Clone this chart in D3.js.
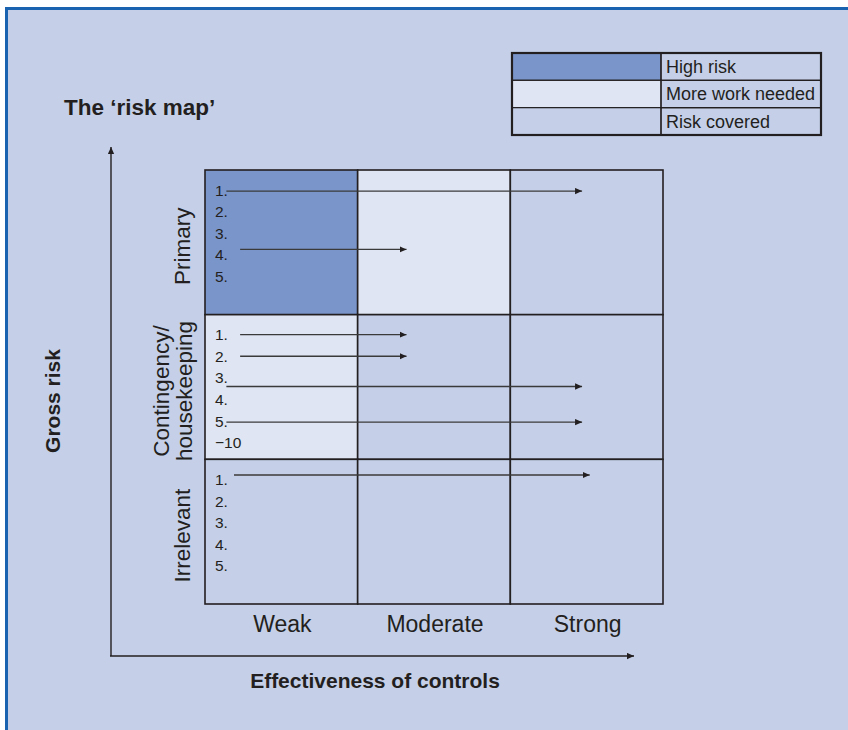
<!DOCTYPE html>
<html>
<head>
<meta charset="utf-8">
<style>
    body { margin: 0; background: #fff; }
    svg { display: block; }
    text { font-family: "Liberation Sans", Arial, sans-serif; fill: #231f20; }
</style>
</head>
<body>
<script src="https://d3js.org/d3.v7.min.js"></script>
<script>

    // controls effectiveness (columns) and gross risk (rows)
    var controls = ["Weak", "Moderate", "Strong"];
    var riskRows = [["Primary"], ["Contingency/", "housekeeping"], ["Irrelevant"]];

    // status of each cell, row by row
    var cellStatus = [
        ["high", "more", "covered"],
        ["more", "covered", "covered"],
        ["covered", "covered", "covered"]
    ];

    var legendKeys = ["high", "more", "covered"];
    var legendLabels = ["High risk", "More work needed", "Risk covered"];
    var statusColors = ["#7a95ca", "#dfe5f2", "#c5d0e8"];

    // risk items listed in each row
    var rowItems = [
        ["1.", "2.", "3.", "4.", "5."],
        ["1.", "2.", "3.", "4.", "5.", "\u221210"],
        ["1.", "2.", "3.", "4.", "5."]
    ];

    // movement arrows: row, position in item list, start and end on the controls scale (0-3)
    var arrows = [
        { row: 0, pos: 0.05, from: 0.14, to: 2.47 },
        { row: 0, pos: 2.75, from: 0.23, to: 1.32 },
        { row: 1, pos: 0.0, from: 0.23, to: 1.32 },
        { row: 1, pos: 1.0, from: 0.23, to: 1.32 },
        { row: 1, pos: 2.4, from: 0.14, to: 2.47 },
        { row: 1, pos: 4.05, from: 0.14, to: 2.47 },
        { row: 2, pos: -0.2, from: 0.19, to: 2.52 }
    ];

    var width = 848, height = 730;

    var svg = d3.select("body").append("svg")
        .attr("width", width)
        .attr("height", height);

    svg.append("defs").append("marker")
        .attr("id", "arrowhead")
        .attr("viewBox", "0 -5 10 10")
        .attr("refX", 10)
        .attr("refY", 0)
        .attr("markerWidth", 7)
        .attr("markerHeight", 7)
        .attr("markerUnits", "userSpaceOnUse")
        .attr("orient", "auto")
        .append("path")
        .attr("d", "M0,-4.5L10,0L0,4.5Z")
        .attr("fill", "#231f20");

    // panel
    svg.append("rect")
        .attr("x", 6.5).attr("y", 8.5)
        .attr("width", width + 10).attr("height", height + 10)
        .attr("fill", "#c5d0e8")
        .attr("stroke", "#1a63b0")
        .attr("stroke-width", 3);

    var x = d3.scaleLinear().domain([0, 3]).range([205, 663]);
    var y = d3.scaleBand().domain(d3.range(3)).range([170, 604]);
    var col = d3.scaleBand().domain(d3.range(3)).range([205, 663]);
    var color = d3.scaleOrdinal().domain(legendKeys).range(statusColors);

    // item rows inside a band
    var itemY = function(row, pos) { return y(row) + 20 + pos * 21.6; };

    var grid = svg.append("g");

    cellStatus.forEach(function(r, i) {
        grid.selectAll(null)
            .data(r)
            .enter().append("rect")
            .attr("x", function(d, j) { return col(j); })
            .attr("y", y(i))
            .attr("width", col.bandwidth())
            .attr("height", y.bandwidth())
            .attr("fill", function(d) { return color(d); })
            .attr("stroke", "#231f20")
            .attr("stroke-width", 1.6);
    });

    rowItems.forEach(function(items, i) {
        grid.selectAll(null)
            .data(items)
            .enter().append("text")
            .attr("x", 215)
            .attr("y", function(d, k) { return itemY(i, k); })
            .attr("dy", "0.36em")
            .attr("font-size", 15.5)
            .attr("fill", "#333")
            .text(function(d) { return d; });
    });

    grid.selectAll(".move")
        .data(arrows)
        .enter().append("line")
        .attr("class", "move")
        .attr("x1", function(d) { return x(d.from); })
        .attr("x2", function(d) { return x(d.to); })
        .attr("y1", function(d) { return itemY(d.row, d.pos); })
        .attr("y2", function(d) { return itemY(d.row, d.pos); })
        .attr("stroke", "#3a3a3a")
        .attr("stroke-width", 1.3)
        .attr("marker-end", "url(#arrowhead)");

    // column labels
    svg.selectAll(".col-label")
        .data(controls)
        .enter().append("text")
        .attr("class", "col-label")
        .attr("x", function(d, j) { return col(j) + col.bandwidth() / 2 + 1; })
        .attr("y", 632)
        .attr("text-anchor", "middle")
        .attr("font-size", 23)
        .text(function(d) { return d; });

    // row labels
    var rowLabel = svg.selectAll(".row-label")
        .data(riskRows)
        .enter().append("text")
        .attr("class", "row-label")
        .attr("text-anchor", "middle")
        .attr("font-size", 22.5)
        .attr("transform", function(d, i) {
            return "translate(190," + (y(i) + y.bandwidth() / 2 + 4) + ") rotate(-90)";
        });

    rowLabel.selectAll("tspan")
        .data(function(d) { return d; })
        .enter().append("tspan")
        .attr("x", 0)
        .attr("y", function(d, k, nodes) { return (k - nodes.length + 1) * 23 + (nodes.length > 1 ? 2 : 0); })
        .text(function(d) { return d; });

    // axes
    svg.append("line")
        .attr("x1", 111).attr("y1", 656)
        .attr("x2", 111).attr("y2", 147)
        .attr("stroke", "#231f20").attr("stroke-width", 1.4)
        .attr("marker-end", "url(#arrowhead)");

    svg.append("line")
        .attr("x1", 110).attr("y1", 656)
        .attr("x2", 634).attr("y2", 656)
        .attr("stroke", "#231f20").attr("stroke-width", 1.4)
        .attr("marker-end", "url(#arrowhead)");

    svg.append("text")
        .attr("x", 375).attr("y", 688)
        .attr("text-anchor", "middle")
        .attr("font-size", 21)
        .attr("font-weight", "bold")
        .text("Effectiveness of controls");

    svg.append("text")
        .attr("transform", "translate(60,401) rotate(-90)")
        .attr("text-anchor", "middle")
        .attr("font-size", 21)
        .attr("font-weight", "bold")
        .text("Gross risk");

    svg.append("text")
        .attr("x", 64).attr("y", 115)
        .attr("font-size", 22.5)
        .attr("font-weight", "bold")
        .text("The \u2018risk map\u2019");

    // legend
    var legend = svg.append("g");
    var ly = d3.scaleBand().domain(legendKeys).range([53, 135]);

    legend.selectAll(".swatch")
        .data(legendKeys)
        .enter().append("rect")
        .attr("class", "swatch")
        .attr("x", 512).attr("y", function(d) { return ly(d); })
        .attr("width", 149).attr("height", ly.bandwidth())
        .attr("fill", function(d) { return color(d); })
        .attr("stroke", "#231f20").attr("stroke-width", 1.2);

    legend.selectAll(".cell")
        .data(legendKeys)
        .enter().append("rect")
        .attr("class", "cell")
        .attr("x", 661).attr("y", function(d) { return ly(d); })
        .attr("width", 160).attr("height", ly.bandwidth())
        .attr("fill", "none")
        .attr("stroke", "#231f20").attr("stroke-width", 1.2);

    legend.append("rect")
        .attr("x", 512).attr("y", 53)
        .attr("width", 309).attr("height", 82)
        .attr("fill", "none")
        .attr("stroke", "#231f20").attr("stroke-width", 2.2);

    legend.selectAll(".legend-label")
        .data(legendLabels)
        .enter().append("text")
        .attr("class", "legend-label")
        .attr("x", 666)
        .attr("y", function(d, i) { return ly(legendKeys[i]) + ly.bandwidth() / 2; })
        .attr("dy", "0.36em")
        .attr("font-size", 18)
        .text(function(d) { return d; });

</script>
</body>
</html>
